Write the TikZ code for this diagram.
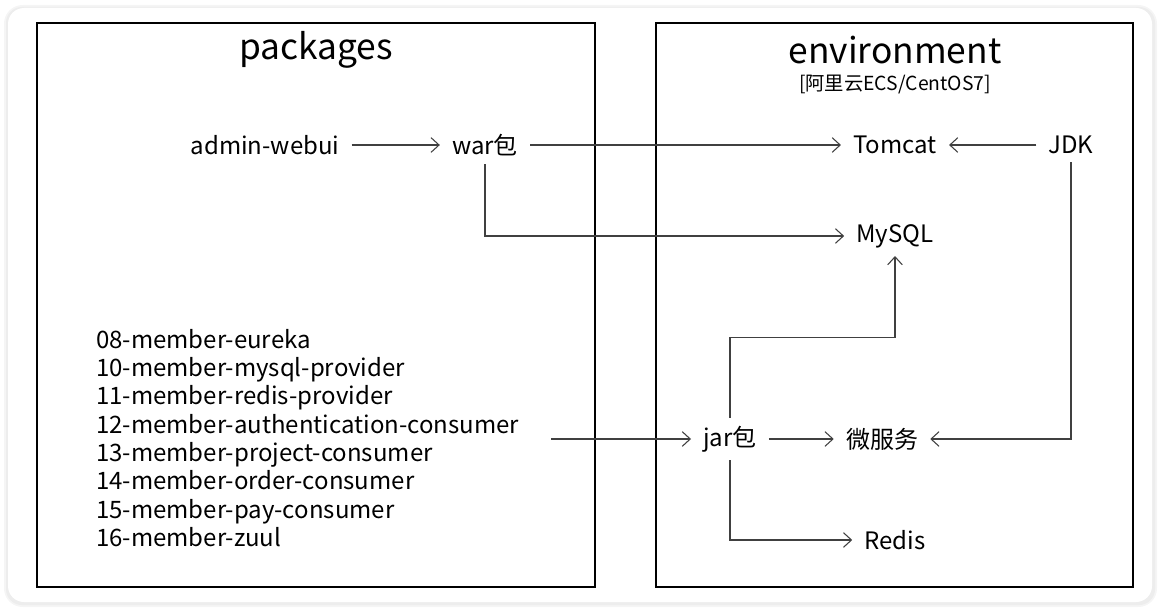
\documentclass[tikz,border=0pt]{standalone}
\usepackage{fontspec}
\setmainfont{Noto Sans CJK SC}
\usepackage{tikz}
\usetikzlibrary{positioning}
\usetikzlibrary{calc,arrows.meta}

\tikzset{
  item/.style={inner xsep=9pt, inner ysep=6pt, font=\fontsize{18}{21}\selectfont},
  title/.style={inner sep=0pt, font=\fontsize{26.5}{30}\selectfont},
  frame/.style={draw=black, line width=2.2pt},
  arr/.style={draw=black!75, line width=0.8pt, -{Straight Barb[length=6pt,width=11pt]}},
}

\begin{document}
\begin{tikzpicture}[x=0.75pt, y=-0.75pt]
    \useasboundingbox (0,0) rectangle (1161,610);
    % Card
    \fill[black!4, rounded corners=14pt] (4,5) rectangle (1157,607);
    \fill[black!7, rounded corners=12pt] (6,7) rectangle (1155,605);
    \fill[white, rounded corners=12pt] (8,8) rectangle (1152,602);
    % Boxes
    \draw[frame] (37,23) rectangle (595,587);
    \draw[frame] (656,23) rectangle (1133,587);
    % Nodes
    \node [title] (pkg) at (316,50) {packages};
    \node [title] (env) at (895,50) {environment};
    \node [inner sep=0pt, font=\fontsize{14.5}{17}\selectfont, below=8pt of env] (envsub) {[阿里云ECS/CentOS7]};

    \node [item] (admin) at (265,145) {admin-webui};
    \node [item] (war) at (485,145) {war包};
    \node [item] (tomcat) at (895,145) {Tomcat};
    \node [item] (jdk) at (1071,145) {JDK};
    \node [item] (mysql) at (895,236) {MySQL};
    \node [item] (jar) at (730,439) {jar包};
    \node [item] (micro) at (882,439) {微服务};
    \node [item] (redis) at (895,540) {Redis};

    \node [inner sep=0pt, anchor=west, align=left,
           font=\fontsize{18}{21.2}\selectfont] (mods) at (96,438) {%
      08-member-eureka\\
      10-member-mysql-provider\\
      11-member-redis-provider\\
      12-member-authentication-consumer\\
      13-member-project-consumer\\
      14-member-order-consumer\\
      15-member-pay-consumer\\
      16-member-zuul};
    % Arrows
    \draw [arr] (admin) -- (war);
    \draw [arr] (war) -- (tomcat);
    \draw [arr] (war.south) |- (mysql);
    \draw [arr] (jdk) -- (tomcat);
    \draw [arr] (jdk.south) |- (micro);
    \draw [arr] ([xshift=24pt]mods.east |- jar) -- (jar);
    \draw [arr] (jar) -- (micro);
    \draw [arr] (jar.north) -- ++(0,-80) -| (mysql.south);
    \draw [arr] (jar.south) |- (redis);
  \end{tikzpicture}
\end{document}
